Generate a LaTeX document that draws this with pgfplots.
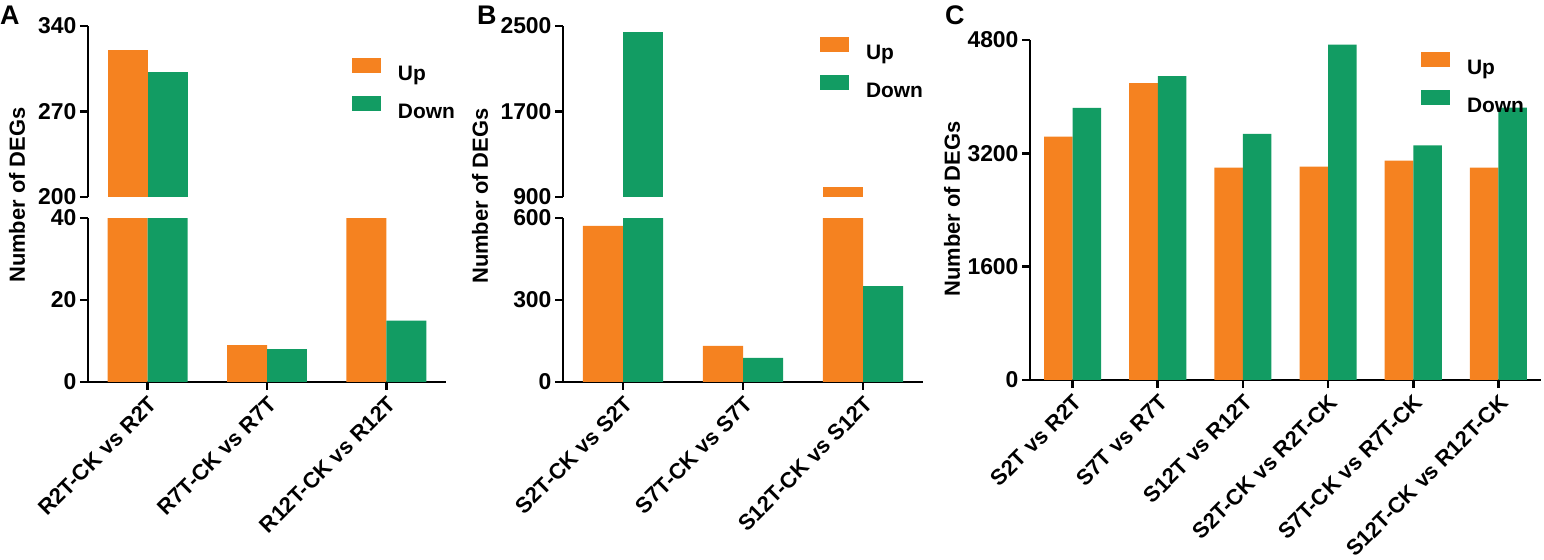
\documentclass[border=0pt]{standalone}
\usepackage{pgfplots}
\pgfplotsset{compat=1.18}
\usepackage{fontspec}
\setmainfont{Liberation Sans}
\definecolor{upc}{RGB}{245,130,32}
\definecolor{downc}{RGB}{18,156,99}
\newcommand\tf{\fontsize{23}{26}\selectfont\bfseries}
\newcommand\lf{\fontsize{22}{25}\selectfont\bfseries}
\newcommand\gf{\fontsize{21}{24}\selectfont\bfseries}
\pgfplotsset{
  deg/.style={
    scale only axis,
    anchor=south west,
    ybar=0pt, bar width=0.335,
    axis lines=left,
    x axis line style={-}, y axis line style={-},
    axis line style={line width=2.6bp, black},
    every tick/.style={line width=2.6bp, black},
    major tick length=8bp,
    tick align=outside,
    tick pos=left,
    minor tick num=0,
    yticklabel style={font=\tf},
    xticklabel style={font=\lf},
    label style={font=\lf},
    /pgf/number format/assume math mode=true,
    /pgf/number format/1000 sep={},
    scaled y ticks=false,
    unbounded coords=discard,
    legend image code/.code={\fill[##1] (0bp,0bp) rectangle (29bp,15bp);},
    legend style={draw=none, fill=none, inner sep=0pt, outer sep=0pt, font=\gf,
      nodes={inner sep=0pt, text depth=0pt}, column sep=17bp, row sep=16bp, anchor=north west},
    legend cell align=left,
  },
  upbar/.style={fill=upc, draw=none},
  downbar/.style={fill=downc, draw=none},
}
\pgfplotstableread{
x up down
0 320 302
1 9 8
2 44 15
}\dataA
\pgfplotstableread{
x up down
0 571 2447
1 132 88
2 994 351
}\dataB
\pgfplotstableread{
x up down
0 3435 3840
1 4192 4290
2 2999 3473
3 3013 4735
4 3098 3313
5 2999 3844
}\dataC
\begin{document}
\begin{tikzpicture}
\useasboundingbox (0,0) rectangle (1544bp,560bp);
% ---------- Panel A ----------
\begin{axis}[deg, at={(88bp,178bp)}, width=358bp, height=164bp,
  xmin=-0.5, xmax=2.5, ymin=0, ymax=40, ytick={0,20,40},
  xtick={0,1,2}, xticklabels={R2T-CK vs R2T, R7T-CK vs R7T, R12T-CK vs R12T},
  xticklabel style={rotate=45, anchor=north east},
  ylabel={Number of DEGs},
  ylabel style={at={(axis description cs:-0.1983,1.140)}, anchor=center}]
\addplot[upbar] table[x=x,y=up] {\dataA};
\addplot[downbar] table[x=x,y=down] {\dataA};
\end{axis}
\begin{axis}[deg, at={(88bp,363bp)}, width=358bp, height=171bp,
  xmin=-0.5, xmax=2.5, ymin=200, ymax=340, ytick={200,270,340},
  axis x line=none, y filter/.expression={y<200 ? nan : y},
  legend style={at={(axis description cs:0.7374,0.8129)}}]
\addplot[upbar] table[x=x,y=up] {\dataA};
\addplot[downbar] table[x=x,y=down] {\dataA};
\legend{Up,Down}
\end{axis}
% ---------- Panel B ----------
\begin{axis}[deg, at={(563bp,178bp)}, width=360bp, height=164bp,
  xmin=-0.5, xmax=2.5, ymin=0, ymax=600, ytick={0,300,600},
  xtick={0,1,2}, xticklabels={S2T-CK vs S2T, S7T-CK vs S7T, S12T-CK vs S12T},
  xticklabel style={rotate=45, anchor=north east},
  ylabel={Number of DEGs},
  ylabel style={at={(axis description cs:-0.2306,1.134)}, anchor=center}]
\addplot[upbar] table[x=x,y=up] {\dataB};
\addplot[downbar] table[x=x,y=down] {\dataB};
\end{axis}
\begin{axis}[deg, at={(563bp,363bp)}, width=360bp, height=171bp,
  xmin=-0.5, xmax=2.5, ymin=900, ymax=2500, ytick={900,1700,2500},
  axis x line=none, y filter/.expression={y<900 ? nan : y},
  legend style={at={(axis description cs:0.7139,0.9357)}}]
\addplot[upbar] table[x=x,y=up] {\dataB};
\addplot[downbar] table[x=x,y=down] {\dataB};
\legend{Up,Down}
\end{axis}
% ---------- Panel C ----------
\begin{axis}[deg, at={(1030bp,180bp)}, width=511bp, height=340bp,
  xmin=-0.5, xmax=5.5, ymin=0, ymax=4800, ytick={0,1600,3200,4800},
  xtick={0,1,2,3,4,5},
  xticklabels={S2T vs R2T, S7T vs R7T, S12T vs R12T, S2T-CK vs R2T-CK, S7T-CK vs R7T-CK, S12T-CK vs R12T-CK},
  xticklabel style={rotate=45, anchor=north east},
  ylabel={Number of DEGs},
  ylabel style={at={(axis description cs:-0.1526,0.503)}, anchor=center},
  legend style={at={(axis description cs:0.7652,0.9647)}}]
\addplot[upbar] table[x=x,y=up] {\dataC};
\addplot[downbar] table[x=x,y=down] {\dataC};
\legend{Up,Down}
\end{axis}
\node[anchor=base west, inner sep=0pt, font=\fontsize{27}{27}\selectfont\bfseries] at (0bp,535bp) {A};
\node[anchor=base west, inner sep=0pt, font=\fontsize{27}{27}\selectfont\bfseries] at (477bp,535bp) {B};
\node[anchor=base west, inner sep=0pt, font=\fontsize{27}{27}\selectfont\bfseries] at (945bp,535bp) {C};
\end{tikzpicture}
\end{document}
